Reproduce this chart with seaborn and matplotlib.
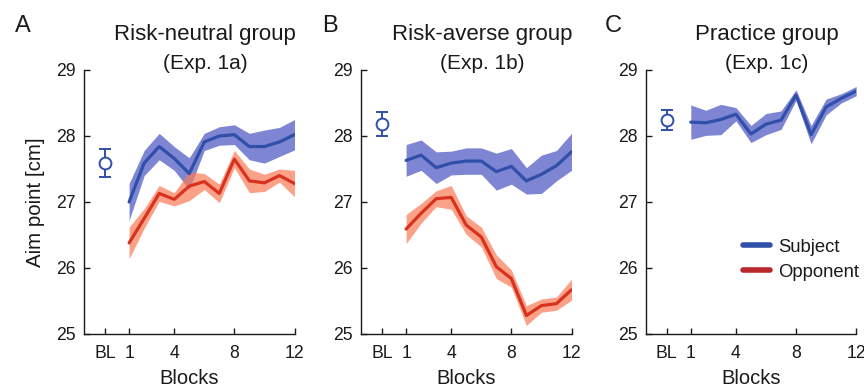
import matplotlib
matplotlib.use("Agg")
import matplotlib.pyplot as plt
from matplotlib.lines import Line2D
import seaborn as sns
import numpy as np

# ---------------- data ----------------
blocks = [1, 2, 3, 4, 5, 6, 7, 8, 9, 10, 11, 12]
bl_pos = -0.6
xtick_labels = ["BL", "1", "4", "8", "12"]
ytick_vals = [25, 26, 27, 28, 29]

a_subj_mean = [27.00, 27.59, 27.84, 27.66, 27.43, 27.91, 28.00, 28.02, 27.84, 27.84, 27.91, 28.02]
a_subj_sem = [0.28, 0.19, 0.20, 0.18, 0.24, 0.13, 0.14, 0.15, 0.20, 0.25, 0.22, 0.23]
a_opp_mean = [26.38, 26.75, 27.13, 27.04, 27.24, 27.31, 27.13, 27.65, 27.32, 27.29, 27.40, 27.28]
a_opp_sem = [0.24, 0.15, 0.12, 0.10, 0.22, 0.12, 0.14, 0.13, 0.18, 0.13, 0.10, 0.20]
a_bl_mean, a_bl_sem = 27.59, 0.21

b_subj_mean = [27.63, 27.71, 27.52, 27.59, 27.62, 27.62, 27.46, 27.54, 27.32, 27.42, 27.55, 27.76]
b_subj_sem = [0.24, 0.23, 0.24, 0.18, 0.20, 0.20, 0.28, 0.27, 0.20, 0.29, 0.23, 0.28]
b_opp_mean = [26.59, 26.83, 27.05, 27.07, 26.65, 26.47, 26.02, 25.84, 25.28, 25.43, 25.46, 25.67]
b_opp_sem = [0.22, 0.15, 0.12, 0.18, 0.14, 0.15, 0.18, 0.13, 0.15, 0.10, 0.10, 0.16]
b_bl_mean, b_bl_sem = 28.18, 0.18

c_subj_mean = [28.21, 28.20, 28.25, 28.33, 28.03, 28.18, 28.24, 28.62, 28.02, 28.44, 28.57, 28.68]
c_subj_sem = [0.26, 0.19, 0.23, 0.10, 0.13, 0.16, 0.14, 0.08, 0.14, 0.12, 0.07, 0.07]
c_bl_mean, c_bl_sem = 28.24, 0.15

titles = ["Risk-neutral group\n(Exp. 1a)", "Risk-averse group\n(Exp. 1b)", "Practice group\n(Exp. 1c)"]
letters = ["A", "B", "C"]
legend_labels = ["Subject", "Opponent"]

# ---------------- style ----------------
sns.set_theme(style="ticks")
plt.rcParams["font.family"] = ["Liberation Sans", "DejaVu Sans"]

blue_line = "#2f4fa8"
blue_band = "#2f3ab8"
red_line = "#d8321e"
red_band = "#fa7a55"
legend_red = "#b8282a"
text_col = "#1a1a1a"

fig = plt.figure(figsize=(8.64, 3.87), dpi=100)
lefts = [84 / 864, 361 / 864, 645.7 / 864]
letter_x = [22.5 / 864, 330 / 864, 613 / 864]
bottom = 1 - 334 / 387
width = 210.5 / 864
height = 264 / 387

panels = [
    (a_subj_mean, a_subj_sem, a_opp_mean, a_opp_sem, a_bl_mean, a_bl_sem),
    (b_subj_mean, b_subj_sem, b_opp_mean, b_opp_sem, b_bl_mean, b_bl_sem),
    (c_subj_mean, c_subj_sem, None, None, c_bl_mean, c_bl_sem),
]

x = np.array(blocks)
for i, (sm, ss, om, os_, blm, bls) in enumerate(panels):
    ax = fig.add_axes([lefts[i], bottom, width, height])
    sm_a, ss_a = np.array(sm), np.array(ss)
    ax.fill_between(x, sm_a - ss_a, sm_a + ss_a, color=blue_band, alpha=0.62, lw=0)
    sns.lineplot(x=blocks, y=sm, ax=ax, color=blue_line, lw=2.3, legend=False)
    if om is not None:
        om_a, os_a = np.array(om), np.array(os_)
        ax.fill_between(x, om_a - os_a, om_a + os_a, color=red_band, alpha=0.7, lw=0)
        sns.lineplot(x=blocks, y=om, ax=ax, color=red_line, lw=2.3, legend=False)
    ax.errorbar([bl_pos], [blm], yerr=[bls], fmt="o", mfc="white", mec=blue_line,
                ms=8.5, mew=1.4, ecolor=blue_line, elinewidth=1.4, capsize=4, capthick=1.4)

    ax.set_xlim(-2, 12)
    ax.set_ylim(25, 29)
    ax.set_xticks([bl_pos, 1, 4, 8, 12])
    ax.set_xticklabels(xtick_labels)
    ax.set_yticks(ytick_vals)
    ax.tick_params(direction="in", length=4, width=1, colors=text_col,
                   labelsize=12.7, pad=6)
    ax.tick_params(axis="x", pad=8)
    for side in ["top", "right"]:
        ax.spines[side].set_visible(False)
    for side in ["left", "bottom"]:
        ax.spines[side].set_linewidth(1.0)
        ax.spines[side].set_color(text_col)
    ax.set_xlabel("Blocks", fontsize=14.5, color=text_col, labelpad=5)
    if i == 0:
        ax.set_ylabel("Aim point [cm]", fontsize=14.8, color=text_col, labelpad=8)
    else:
        ax.set_ylabel("")
    t1, t2 = titles[i].split("\n")
    ax.text(0.576, 1.133, t1, transform=ax.transAxes, ha="center", va="center",
            fontsize=16, color=text_col)
    ax.text(0.576, 1.023, t2, transform=ax.transAxes, ha="center", va="center",
            fontsize=15, color=text_col)
    fig.text(letter_x[i], 1 - 26 / 387, letters[i], ha="center", va="center",
             fontsize=17, color=text_col)
    if i == 2:
        handles = [Line2D([0], [0], color=blue_line, lw=4),
                   Line2D([0], [0], color=legend_red, lw=4)]
        ax.legend(handles, legend_labels, loc="upper left", bbox_to_anchor=(0.464, 0.36),
                  frameon=False, fontsize=13.3, handlelength=1.45, handletextpad=0.45,
                  labelspacing=0.42, borderpad=0, borderaxespad=0,
                  labelcolor=text_col)

fig.savefig("out.png", dpi=100)
